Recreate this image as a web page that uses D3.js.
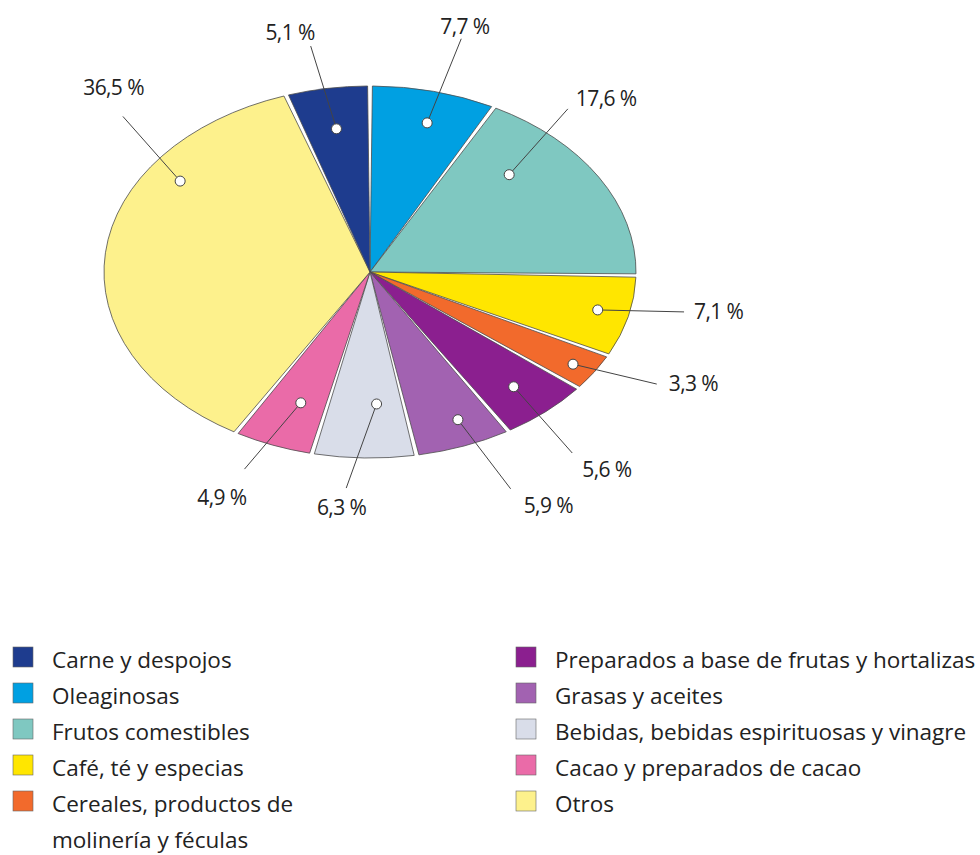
<!DOCTYPE html>
<html>
<head>
<meta charset="utf-8">
<script src="https://cdn.jsdelivr.net/npm/d3@7"></script>
<style>
  body { margin: 0; background: #fff; }
  svg { display: block; font-family: "Open Sans", "Noto Sans", sans-serif; }
</style>
</head>
<body>
<svg id="chart" width="980" height="855"></svg>
<script>
// categories clockwise from 12 o'clock
var categories = ["Oleaginosas", "Frutos comestibles", "Café, té y especias",
  "Cereales, productos de molinería y féculas", "Preparados a base de frutas y hortalizas",
  "Grasas y aceites", "Bebidas, bebidas espirituosas y vinagre", "Cacao y preparados de cacao",
  "Otros", "Carne y despojos"]
var shares = [7.7, 17.6, 7.1, 3.3, 5.6, 5.9, 6.3, 4.9, 36.5, 5.1]
var colors = ["#00a0e2", "#7fc8c1", "#ffe600", "#f26a2c", "#8b1f8f",
  "#a262b1", "#d9dde9", "#ea6ba8", "#fdf18c", "#1e3c8e"]

// legend columns (with line breaks as in the original)
var legendLeft = [["Carne y despojos"], ["Oleaginosas"], ["Frutos comestibles"],
  ["Café, té y especias"], ["Cereales, productos de", "molinería y féculas"]]
var legendRight = [["Preparados a base de frutas y hortalizas"], ["Grasas y aceites"],
  ["Bebidas, bebidas espirituosas y vinagre"], ["Cacao y preparados de cacao"], ["Otros"]]

// callout layout, same order as categories:
// dot angle (deg from top), dot radius, line end angle, line end radius, text anchor, text offset
var callout = [
  [15, 0.83, 15.3, 1.3, "start", -21, -12],
  [45, 0.74, 40.3, 1.15, "start", 8, -10],
  [103.4, 0.88, 100.3, 1.2, "start", 10, 0],
  [123, 0.91, 119.2, 1.235, "start", 12, 0],
  [138.8, 0.82, 142, 1.235, "start", 10, 17],
  [157.4, 0.86, 155.6, 1.28, "start", 13, 17],
  [178, 0.71, 184.4, 1.165, "end", 20, 20],
  [200.3, 0.75, 204, 1.16, "end", 2, 29],
  [304.4, 0.865, 312, 1.25, "end", 21, -29],
  [-9.3, 0.78, -10.4, 1.235, "end", 4, -13]
]

var cx = 370, cy = 272, rx = 266, ry = 186

var svg = d3.select("#chart")
var color = d3.scaleOrdinal().domain(categories).range(colors)
var fmt = d3.formatLocale({decimal: ",", thousands: "."}).format(".1f")

// unit circle -> screen (ellipse)
var x = d3.scaleLinear().domain([-1, 1]).range([cx - rx, cx + rx])
var y = d3.scaleLinear().domain([-1, 1]).range([cy - ry, cy + ry])
function pt(deg, r) {
  var a = deg * Math.PI / 180
  return [x(Math.sin(a) * r), y(-Math.cos(a) * r)]
}

var pie = d3.pie().sort(null).value(function(d) { return d.v })
var arcs = pie(categories.map(function(c, i) { return {c: c, v: shares[i]} }))

var arc = d3.arc().innerRadius(0).outerRadius(ry).padAngle(0.018).padRadius(ry)

var g = svg.append("g")
  .attr("transform", "translate(" + cx + "," + cy + ") scale(" + (rx / ry) + ",1)")

g.selectAll("path").data(arcs).enter().append("path")
  .attr("d", arc)
  .attr("fill", function(d) { return color(d.data.c) })
  .attr("stroke", "#4d4d4d")
  .attr("stroke-width", 0.8)
  .attr("vector-effect", "non-scaling-stroke")

// callouts
var call = svg.append("g")
arcs.forEach(function(d, i) {
  var L = callout[i]
  var p0 = pt(L[0], L[1]), p1 = pt(L[2], L[3])
  call.append("line")
    .attr("x1", p0[0]).attr("y1", p0[1]).attr("x2", p1[0]).attr("y2", p1[1])
    .attr("stroke", "#444").attr("stroke-width", 1)
  call.append("circle")
    .attr("cx", p0[0]).attr("cy", p0[1]).attr("r", 5)
    .attr("fill", "#fff").attr("stroke", "#444").attr("stroke-width", 1)
  call.append("text")
    .attr("x", p1[0] + L[5])
    .attr("y", p1[1] + L[6])
    .attr("dy", "0.35em")
    .attr("text-anchor", L[4])
    .attr("font-size", 21)
    .attr("letter-spacing", -0.6)
    .attr("fill", "#222")
    .text(fmt(d.data.v) + " %")
})

// legend
function legend(items, x0, names) {
  var row = 0
  items.forEach(function(lines, i) {
    var gy = 647 + row * 36
    svg.append("rect")
      .attr("x", x0).attr("y", gy).attr("width", 20).attr("height", 20)
      .attr("fill", color(names[i]))
      .attr("stroke", "#666").attr("stroke-width", 0.6)
    lines.forEach(function(t, j) {
      svg.append("text")
        .attr("x", x0 + 39).attr("y", gy + 21 + j * 36)
        .attr("font-size", 22.5)
        .attr("fill", "#222")
        .text(t)
    })
    row += lines.length
  })
}
legend(legendLeft, 13, ["Carne y despojos", "Oleaginosas", "Frutos comestibles",
  "Café, té y especias", "Cereales, productos de molinería y féculas"])
legend(legendRight, 516, ["Preparados a base de frutas y hortalizas", "Grasas y aceites",
  "Bebidas, bebidas espirituosas y vinagre", "Cacao y preparados de cacao", "Otros"])
</script>
</body>
</html>
